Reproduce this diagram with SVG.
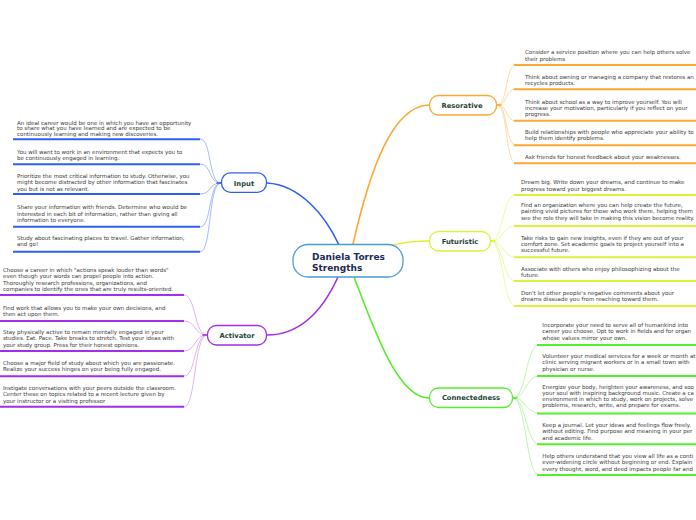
<svg xmlns="http://www.w3.org/2000/svg" width="696" height="520" viewBox="0 0 696 520">
<style>
.bg{fill:#ffffff}
.leaf{font-family:"DejaVu Sans",Verdana,sans-serif;font-size:5.5px;fill:#3a3a3a}
.lbl{font-family:"DejaVu Sans",Verdana,sans-serif;font-size:6.8px;font-weight:bold;fill:#1d4536;text-anchor:middle}
.title{font-family:"DejaVu Sans",Verdana,sans-serif;font-size:9px;font-weight:bold;fill:#1b2a56}
.node{fill:#ffffff;stroke-width:1.3}
.main{fill:none;stroke-width:1.6;stroke-linecap:round}
.sub{fill:none;stroke-width:0.8}
.ul{fill:none;stroke-width:2}
.blue{stroke:#2f5ff2}
.blueL{stroke:#8ea9fb}
.orange{stroke:#ffa733}
.orangeL{stroke:#ffd08f}
.yellow{stroke:#dcf23a}
.yellowL{stroke:#e9f78a}
.purple{stroke:#a22ee8}
.purpleL{stroke:#d6a1f5}
.green{stroke:#55ee2a}
.greenL{stroke:#aaf59a}
</style>
<rect class="bg" x="0" y="0" width="696" height="520"/>

<g id="connectors">
  <path class="main blue" d="M 339 245 C 325 215, 300 185, 267 183"/>
  <path class="main orange" d="M 353 244 C 370 170, 392 106, 429 105"/>
  <path class="main yellow" d="M 393 245 C 405 242, 415 241, 429 241"/>
  <path class="main purple" d="M 338 277 C 322 312, 300 335, 267 335"/>
  <path class="main green" d="M 354 277 C 375 332, 398 398, 429 398"/>

  <g class="sub blueL">
    <path d="M 221 183 C 208 183, 212 139, 200 139"/>
    <path d="M 221 183 C 208 183, 212 164, 200 164"/>
    <path d="M 221 183 C 208 183, 212 194, 200 194"/>
    <path d="M 221 183 C 208 183, 212 227, 200 227"/>
    <path d="M 221 183 C 208 183, 212 252, 200 252"/>
  </g>
  <path class="main blue" d="M 217 183 L 221 183"/>
  <g class="sub purpleL">
    <path d="M 207 335 C 194 335, 196 295, 184 295"/>
    <path d="M 207 335 C 194 335, 196 321, 184 321"/>
    <path d="M 207 335 C 194 335, 196 351, 184 351"/>
    <path d="M 207 335 C 194 335, 196 376, 184 376"/>
    <path d="M 207 335 C 194 335, 196 407, 184 407"/>
  </g>
  <path class="main purple" d="M 203 335 L 207 335"/>
  <g class="sub orangeL">
    <path d="M 497 105 C 508 105, 505 65, 516 65"/>
    <path d="M 497 105 C 508 105, 505 89, 516 89"/>
    <path d="M 497 105 C 508 105, 505 121, 516 121"/>
    <path d="M 497 105 C 508 105, 505 145, 516 145"/>
    <path d="M 497 105 C 508 105, 505 163, 516 163"/>
  </g>
  <path class="main orange" d="M 497 105 L 501 105"/>
  <g class="sub yellowL">
    <path d="M 491 241 C 503 241, 503 195, 515 195"/>
    <path d="M 491 241 C 503 241, 503 226, 515 226"/>
    <path d="M 491 241 C 503 241, 503 257, 515 257"/>
    <path d="M 491 241 C 503 241, 503 281, 515 281"/>
    <path d="M 491 241 C 503 241, 503 306, 515 306"/>
  </g>
  <path class="main yellow" d="M 491 241 L 495 241"/>
  <g class="sub greenL">
    <path d="M 513 398 C 526 398, 526 345, 539 345"/>
    <path d="M 513 398 C 526 398, 526 376, 539 376"/>
    <path d="M 513 398 C 526 398, 526 413, 539 413"/>
    <path d="M 513 398 C 526 398, 526 444, 539 444"/>
    <path d="M 513 398 C 526 398, 526 475, 539 475"/>
  </g>
  <path class="main green" d="M 513 398 L 517 398"/>
</g>

<g id="center">
  <rect class="node" x="293" y="244.5" width="110" height="32.5" rx="15" stroke="#4a9ad8" stroke-width="1"/>
  <text class="title" x="312" y="259.7">Daniela Torres</text>
  <text class="title" x="312" y="270.5">Strengths</text>
</g>

<g id="input">
  <rect class="node blue" x="221.5" y="172.8" width="45" height="19.5" rx="9"/>
  <text class="lbl" x="244" y="185.6">Input</text>
</g>
<g id="input-leaves">
  <g class="ul blue">
    <path d="M 13 139.3 H 200"/><path d="M 13 164.3 H 200"/><path d="M 13 194 H 200"/><path d="M 13 226.7 H 200"/><path d="M 13 251.7 H 200"/>
  </g>
  <text class="leaf" x="17" y="124.5">An ideal career would be one in which you have an opportunity</text>
  <text class="leaf" x="17" y="130.3">to share what you have learned and are expected to be</text>
  <text class="leaf" x="17" y="136">continuously learning and making new discoveries.</text>
  <text class="leaf" x="17" y="153.5">You will want to work in an environment that expects you to</text>
  <text class="leaf" x="17" y="160">be continuously engaged in learning.</text>
  <text class="leaf" x="17" y="177.5">Prioritize the most critical information to study. Otherwise, you</text>
  <text class="leaf" x="17" y="184">might become distracted by other information that fascinates</text>
  <text class="leaf" x="17" y="190.5">you but is not as relevant.</text>
  <text class="leaf" x="17" y="209.2">Share your information with friends. Determine who would be</text>
  <text class="leaf" x="17" y="215.6">interested in each bit of information, rather than giving all</text>
  <text class="leaf" x="17" y="222">information to everyone.</text>
  <text class="leaf" x="17" y="239.5">Study about fascinating places to travel. Gather information,</text>
  <text class="leaf" x="17" y="246">and go!</text>
</g>

<g id="activator">
  <rect class="node purple" x="207.5" y="325.5" width="59" height="19.5" rx="9"/>
  <text class="lbl" x="237" y="337.8">Activator</text>
</g>
<g id="activator-leaves">
  <g class="ul purple">
    <path d="M 0 295 H 184"/><path d="M 0 321 H 184"/><path d="M 0 351 H 184"/><path d="M 0 376.3 H 184"/><path d="M 0 406.7 H 184"/>
  </g>
  <text class="leaf" x="3" y="272">Choose a career in which "actions speak louder than words"</text>
  <text class="leaf" x="3" y="278.4">even though your words can propel people into action.</text>
  <text class="leaf" x="3" y="284.8">Thoroughly research professions, organizations, and</text>
  <text class="leaf" x="3" y="291.2">companies to identify the ones that are truly results-oriented.</text>
  <text class="leaf" x="3" y="310">Find work that allows you to make your own decisions, and</text>
  <text class="leaf" x="3" y="316.4">then act upon them.</text>
  <text class="leaf" x="3" y="333.6">Stay physically active to remain mentally engaged in your</text>
  <text class="leaf" x="3" y="340.2">studies. Eat. Pace. Take breaks to stretch. Test your ideas with</text>
  <text class="leaf" x="3" y="346.8">your study group. Press for their honest opinions.</text>
  <text class="leaf" x="3" y="364.6">Choose a major field of study about which you are passionate.</text>
  <text class="leaf" x="3" y="371.2">Realize your success hinges on your being fully engaged.</text>
  <text class="leaf" x="3" y="389.6">Instigate conversations with your peers outside the classroom.</text>
  <text class="leaf" x="3" y="396.2">Center these on topics related to a recent lecture given by</text>
  <text class="leaf" x="3" y="402.8">your instructor or a visiting professor</text>
</g>

<g id="resorative">
  <rect class="node orange" x="429.5" y="95.5" width="67" height="19.5" rx="9"/>
  <text class="lbl" x="462" y="108.3">Resorative</text>
</g>
<g id="resorative-leaves">
  <g class="ul orange">
    <path d="M 514 65 H 696"/><path d="M 514 89.3 H 696"/><path d="M 514 120.7 H 696"/><path d="M 514 145.3 H 696"/><path d="M 514 163.3 H 696"/>
  </g>
  <text class="leaf" x="525" y="54.2">Consider a service position where you can help others solve</text>
  <text class="leaf" x="525" y="60.8">their problems</text>
  <text class="leaf" x="525" y="78.5">Think about owning or managing a company that restores an</text>
  <text class="leaf" x="525" y="84.8">recycles products.</text>
  <text class="leaf" x="525" y="103.5">Think about school as a way to improve yourself. You will</text>
  <text class="leaf" x="525" y="110">increase your motivation, particularly if you reflect on your</text>
  <text class="leaf" x="525" y="116.3">progress.</text>
  <text class="leaf" x="525" y="133.6">Build relationships with people who appreciate your ability to</text>
  <text class="leaf" x="525" y="140.4">help them identify problems.</text>
  <text class="leaf" x="525" y="158.6">Ask friends for honest feedback about your weaknesses.</text>
</g>

<g id="futuristic">
  <rect class="node yellow" x="429.5" y="231.5" width="61" height="19.5" rx="9"/>
  <text class="lbl" x="460" y="243.6">Futuristic</text>
</g>
<g id="futuristic-leaves">
  <g class="ul yellow">
    <path d="M 514 195 H 696"/><path d="M 514 226 H 696"/><path d="M 514 257.3 H 696"/><path d="M 514 281 H 696"/><path d="M 514 306 H 696"/>
  </g>
  <text class="leaf" x="521" y="184.2">Dream big. Write down your dreams, and continue to make</text>
  <text class="leaf" x="521" y="190.8">progress toward your biggest dreams.</text>
  <text class="leaf" x="521" y="206.8">Find an organization where you can help create the future,</text>
  <text class="leaf" x="521" y="213.4">painting vivid pictures for those who work there, helping them</text>
  <text class="leaf" x="521" y="220">see the role they will take in making this vision become reality.</text>
  <text class="leaf" x="521" y="239.5">Take risks to gain new insights, even if they are out of your</text>
  <text class="leaf" x="521" y="245.9">comfort zone. Set academic goals to project yourself into a</text>
  <text class="leaf" x="521" y="252.3">successful future.</text>
  <text class="leaf" x="521" y="270.6">Associate with others who enjoy philosophizing about the</text>
  <text class="leaf" x="521" y="277">future.</text>
  <text class="leaf" x="521" y="294.6">Don't let other people's negative comments about your</text>
  <text class="leaf" x="521" y="300.9">dreams dissuade you from reaching toward them.</text>
</g>

<g id="connectedness">
  <rect class="node green" x="429.5" y="388" width="83" height="19.5" rx="9"/>
  <text class="lbl" x="471" y="400.2">Connectedness</text>
</g>
<g id="connectedness-leaves">
  <g class="ul green">
    <path d="M 537 345 H 696"/><path d="M 537 376 H 696"/><path d="M 537 413.5 H 696"/><path d="M 537 444.3 H 696"/><path d="M 537 475 H 696"/>
  </g>
  <text class="leaf" x="542.3" y="326.8">Incorporate your need to serve all of humankind into</text>
  <text class="leaf" x="542.3" y="333.4">career you choose. Opt to work in fields and for organ</text>
  <text class="leaf" x="542.3" y="340">whose values mirror your own.</text>
  <text class="leaf" x="542.3" y="357.8">Volunteer your medical services for a week or month at</text>
  <text class="leaf" x="542.3" y="364.4">clinic serving migrant workers or in a small town with</text>
  <text class="leaf" x="542.3" y="371">physician or nurse.</text>
  <text class="leaf" x="542.3" y="388.6">Energize your body, heighten your awareness, and soo</text>
  <text class="leaf" x="542.3" y="394.7">your soul with inspiring background music. Create a ca</text>
  <text class="leaf" x="542.3" y="400.8">environment in which to study, work on projects, solve</text>
  <text class="leaf" x="542.3" y="407">problems, research, write, and prepare for exams.</text>
  <text class="leaf" x="542.3" y="426.8">Keep a journal. Let your ideas and feelings flow freely.</text>
  <text class="leaf" x="542.3" y="433.3">without editing. Find purpose and meaning in your per</text>
  <text class="leaf" x="542.3" y="439.6">and academic life.</text>
  <text class="leaf" x="542.3" y="457.6">Help others understand that you view all life as a conti</text>
  <text class="leaf" x="542.3" y="464.1">ever-widening circle without beginning or end. Explain</text>
  <text class="leaf" x="542.3" y="470.8">every thought, word, and deed impacts people far and</text>
</g>
</svg>
